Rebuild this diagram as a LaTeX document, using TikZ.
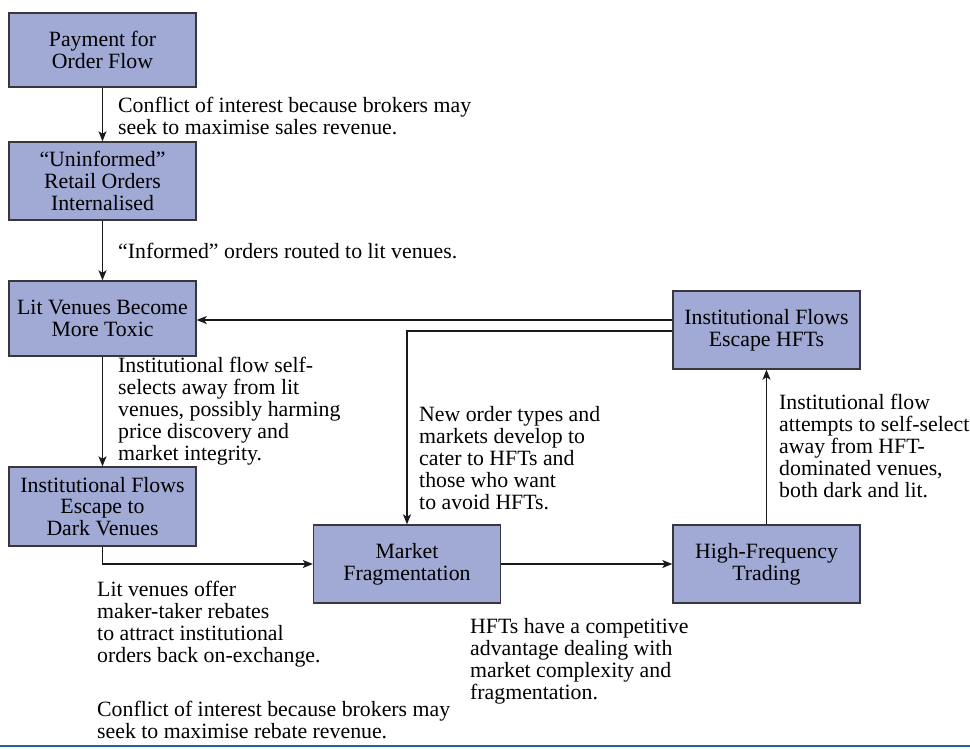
\documentclass[tikz,border=0pt]{standalone}
\usepackage{fontspec}
\setmainfont{Liberation Serif}
\usetikzlibrary{arrows.meta}
\definecolor{boxfill}{RGB}{161,169,213}
\definecolor{boxline}{RGB}{55,55,60}
\definecolor{rulecol}{RGB}{40,98,158}
\begin{document}
\begin{tikzpicture}[x=1pt,y=-1pt,
  box/.style={draw=boxline, line width=1.4pt, fill=boxfill, minimum width=187pt,
    minimum height=77pt, align=center, inner sep=0pt,
    font=\fontsize{21.8}{21.8}\selectfont},
  lbl/.style={anchor=north west, align=left, inner sep=0pt,
    font=\fontsize{21.8}{21.95}\selectfont},
  arr/.style={-{Stealth[length=10pt,width=8pt,inset=2.5pt]}, line width=1.1pt, draw=black!90}]
\useasboundingbox (0,0) rectangle (970,750);

% boxes
\node[box, minimum height=74pt] (b1) at (102.5,50) {Payment for\\Order Flow};
\node[box, minimum height=78pt] (b2) at (102.5,181) {“Uninformed”\\Retail Orders\\Internalised};
\node[box, minimum height=75pt] (b3) at (102.5,318.5) {Lit Venues Become\\More Toxic};
\node[box, minimum height=79pt] (b4) at (102.5,506.5) {Institutional Flows\\Escape to\\Dark Venues};
\node[box, minimum height=78pt] (mf) at (407,564) {Market\\Fragmentation};
\node[box, minimum height=78pt] (hft) at (766.5,564) {High-Frequency\\Trading};
\node[box, minimum height=78pt] (ife) at (766.5,330) {Institutional Flows\\Escape HFTs};

% connectors
\draw[arr] (b1) -- (b2);
\draw[arr] (b2) -- (b3);
\draw[arr] (b3) -- (b4);
\draw[arr] (b4.south) |- (mf.west);
\draw[arr] (mf) -- (hft);
\draw[arr] (hft) -- (ife);
\coordinate (ifeA) at ([yshift=10pt]ife.west);
\coordinate (ifeB) at ([yshift=-1pt]ife.west);
\draw[arr] (ifeA) -- (ifeA -| b3.east);
\draw[arr] (ifeB) -| (mf.north);

% labels
\node[lbl] (l1) at (118,97) {Conflict of interest because brokers may\\seek to maximise sales revenue.};
\node[lbl] (l2) at (118,243) {“Informed” orders routed to lit venues.};
\node[lbl] (l3) at (118,357) {Institutional flow self-\\selects away from lit\\venues, possibly harming\\price discovery and\\market integrity.};
\node[lbl] (l4) at (419,406) {New order types and\\markets develop to\\cater to HFTs and\\those who want\\to avoid HFTs.};
\node[lbl] (l5) at (779,394) {Institutional flow\\attempts to self-select\\away from HFT-\\dominated venues,\\both dark and lit.};
\node[lbl] (l6) at (97,581) {Lit venues offer\\maker-taker rebates\\to attract institutional\\orders back on-exchange.};
\node[lbl] (l7) at (97,701) {Conflict of interest because brokers may\\seek to maximise rebate revenue.};
\node[lbl] (l8) at (470,618) {HFTs have a competitive\\advantage dealing with\\market complexity and\\fragmentation.};

% bottom rule
\draw[rulecol, line width=1.8pt] (0,746) coordinate (r0) -- (970,746) coordinate (r1);
\end{tikzpicture}
\end{document}
